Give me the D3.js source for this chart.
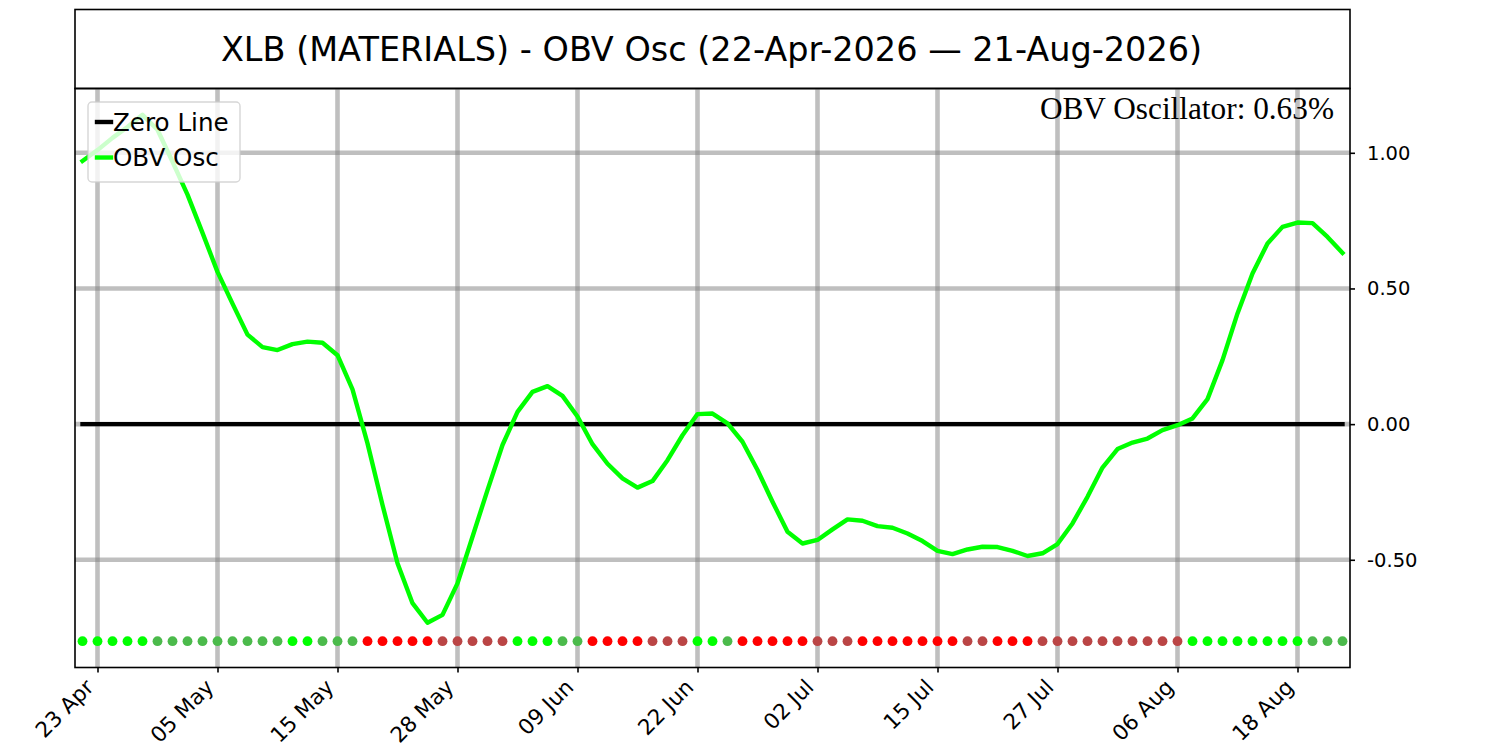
<!DOCTYPE html>
<html>
<head>
<meta charset="utf-8">
<script src="https://cdn.jsdelivr.net/npm/d3@7"></script>
<style>
  body { margin: 0; background: #fff; }
  text { font-family: "DejaVu Sans", sans-serif; }
</style>
</head>
<body>
<svg id="chart" width="1500" height="750"></svg>
<script>
// trading days shown on the chart
var dates = [
    "2026-04-22","2026-04-23","2026-04-24","2026-04-27","2026-04-28","2026-04-29","2026-04-30",
    "2026-05-01","2026-05-04","2026-05-05","2026-05-06","2026-05-07","2026-05-08","2026-05-11",
    "2026-05-12","2026-05-13","2026-05-14","2026-05-15","2026-05-18","2026-05-19","2026-05-20",
    "2026-05-21","2026-05-22","2026-05-26","2026-05-27","2026-05-28","2026-05-29",
    "2026-06-01","2026-06-02","2026-06-03","2026-06-04","2026-06-05","2026-06-08","2026-06-09",
    "2026-06-10","2026-06-11","2026-06-12","2026-06-15","2026-06-16","2026-06-17","2026-06-18",
    "2026-06-22","2026-06-23","2026-06-24","2026-06-25","2026-06-26","2026-06-29","2026-06-30",
    "2026-07-01","2026-07-02","2026-07-06","2026-07-07","2026-07-08","2026-07-09","2026-07-10",
    "2026-07-13","2026-07-14","2026-07-15","2026-07-16","2026-07-17","2026-07-20","2026-07-21",
    "2026-07-22","2026-07-23","2026-07-24","2026-07-27","2026-07-28","2026-07-29","2026-07-30",
    "2026-07-31","2026-08-03","2026-08-04","2026-08-05","2026-08-06","2026-08-07","2026-08-10",
    "2026-08-11","2026-08-12","2026-08-13","2026-08-14","2026-08-17","2026-08-18","2026-08-19",
    "2026-08-20","2026-08-21"
];

// OBV oscillator (%)
var obvOsc = [
    0.970, 1.010, 1.055, 1.095, 1.140, 1.085, 0.967, 0.846, 0.705, 0.561,
    0.444, 0.330, 0.284, 0.273, 0.295, 0.304, 0.300, 0.254, 0.128, -0.071,
    -0.298, -0.513, -0.660, -0.732, -0.703, -0.587, -0.415, -0.243, -0.077, 0.045,
    0.119, 0.140, 0.104, 0.028, -0.074, -0.146, -0.200, -0.234, -0.210, -0.133,
    -0.041, 0.037, 0.039, 0.003, -0.065, -0.169, -0.286, -0.397, -0.440, -0.427,
    -0.388, -0.351, -0.356, -0.376, -0.382, -0.403, -0.431, -0.467, -0.479, -0.462,
    -0.452, -0.453, -0.467, -0.486, -0.476, -0.442, -0.366, -0.268, -0.160, -0.092,
    -0.068, -0.053, -0.022, -0.004, 0.021, 0.092, 0.236, 0.408, 0.555, 0.666,
    0.727, 0.743, 0.741, 0.690, 0.631
];

var tickDates = ["2026-04-23","2026-05-05","2026-05-15","2026-05-28","2026-06-09","2026-06-22",
                 "2026-07-02","2026-07-15","2026-07-27","2026-08-06","2026-08-18"];
var yTicks = [1.0, 0.5, 0.0, -0.5];
var signalLevel = -0.8; // where the signal dots sit

var title = "XLB (MATERIALS) - OBV Osc (22-Apr-2026 \u2014 21-Aug-2026)";
var lastLabel = "OBV Oscillator: " + obvOsc[obvOsc.length - 1].toFixed(2) + "%";

var svg = d3.select("#chart");
var margin = {left: 75, right: 1350, top: 88.5, bottom: 667.5};
var gridColor = "#808080";

// x on trading-day index, y with matplotlib-like 5% padding
var x = d3.scalePoint()
    .domain(dates)
    .range([margin.left, margin.right])
    .padding(0.5);

var lo = Math.min(signalLevel, d3.min(obvOsc)),
    hi = d3.max(obvOsc),
    pad = (hi - lo) * 0.05;
var y = d3.scaleLinear()
    .domain([lo - pad, hi + pad])
    .range([margin.bottom, margin.top]);

svg.append("rect").attr("width", 1500).attr("height", 750).attr("fill", "#fff");

// title box
svg.append("rect")
    .attr("x", margin.left).attr("y", 9.5)
    .attr("width", margin.right - margin.left).attr("height", margin.top - 9.5)
    .attr("fill", "none").attr("stroke", "#000").attr("stroke-width", 1.6);
svg.append("text")
    .attr("x", (margin.left + margin.right) / 2 - 1).attr("y", 61)
    .attr("text-anchor", "middle")
    .style("font-size", "33.5px")
    .text(title);

// grid
var grid = svg.append("g").attr("stroke", gridColor).attr("stroke-opacity", 0.5).attr("stroke-width", 4.6);
grid.selectAll("line.vx")
    .data(tickDates).enter()
    .append("line")
    .attr("x1", function(d){ return x(d); }).attr("x2", function(d){ return x(d); })
    .attr("y1", margin.top).attr("y2", margin.bottom);
grid.selectAll("line.hy")
    .data(yTicks).enter()
    .append("line")
    .attr("x1", margin.left).attr("x2", margin.right)
    .attr("y1", function(d){ return y(d); }).attr("y2", function(d){ return y(d); });

// zero line
svg.append("line")
    .attr("x1", x(dates[0])).attr("x2", x(dates[dates.length - 1]))
    .attr("y1", y(0)).attr("y2", y(0))
    .attr("stroke", "#000").attr("stroke-width", 4.4)
    .attr("stroke-linecap", "square");

// oscillator line
var line = d3.line()
    .x(function(d, i){ return x(dates[i]); })
    .y(function(d){ return y(d); });
svg.append("path")
    .datum(obvOsc)
    .attr("d", line)
    .attr("fill", "none")
    .attr("stroke", "#00ff00")
    .attr("stroke-width", 4.4)
    .attr("stroke-linejoin", "round")
    .attr("stroke-linecap", "square");

// signal dots: above/below zero and rising/falling
function signalColor(d, i){
    var rising = i === 0 || d >= obvOsc[i - 1];
    if(d >= 0) return rising ? "#00ff00" : "#4bba4b";
    return rising ? "#ba4545" : "#ff0000";
}
svg.append("g")
    .selectAll("circle")
    .data(obvOsc).enter()
    .append("circle")
    .attr("cx", function(d, i){ return x(dates[i]); })
    .attr("cy", y(signalLevel))
    .attr("r", 4.9)
    .attr("fill", signalColor);

// legend
var legend = svg.append("g");
legend.append("rect")
    .attr("x", 88).attr("y", 102).attr("width", 152).attr("height", 80).attr("rx", 4)
    .attr("fill", "#fff").attr("fill-opacity", 0.8)
    .attr("stroke", "#cccccc").attr("stroke-opacity", 0.8).attr("stroke-width", 1.4);
var legendItems = [{name: "Zero Line", color: "#000"}, {name: "OBV Osc", color: "#00ff00"}];
legendItems.forEach(function(item, i){
    var ly = 122 + i * 35.5;
    legend.append("line")
        .attr("x1", 97).attr("x2", 111).attr("y1", ly).attr("y2", ly)
        .attr("stroke", item.color).attr("stroke-width", 4.4).attr("stroke-linecap", "square");
    legend.append("text")
        .attr("x", 113).attr("y", ly + 8.5)
        .style("font-size", "24.6px")
        .text(item.name);
});

// frame
svg.append("rect")
    .attr("x", margin.left).attr("y", margin.top)
    .attr("width", margin.right - margin.left).attr("height", margin.bottom - margin.top)
    .attr("fill", "none").attr("stroke", "#000").attr("stroke-width", 1.6);

// axes
var parse = d3.timeParse("%Y-%m-%d"),
    fmt = d3.timeFormat("%d %b");
var xAxis = svg.append("g")
    .attr("transform", "translate(0," + margin.bottom + ")")
    .call(d3.axisBottom(x).tickValues(tickDates).tickSize(5)
        .tickFormat(function(d){ return fmt(parse(d)); }));
xAxis.select(".domain").remove();
xAxis.selectAll("line").attr("stroke", "#000").attr("stroke-width", 1.6);
xAxis.selectAll("text")
    .attr("x", 0).attr("y", 0).attr("dy", 0)
    .attr("text-anchor", "end")
    .attr("transform", "translate(-3,21) rotate(-45)")
    .attr("fill", "#000")
    .style("font-size", "21.5px")
    .style("font-family", "DejaVu Sans");

var yAxis = svg.append("g")
    .attr("transform", "translate(" + margin.right + ",0)")
    .call(d3.axisRight(y).tickValues(yTicks).tickSize(5).tickPadding(12)
        .tickFormat(function(d){ return d.toFixed(2); }));
yAxis.select(".domain").remove();
yAxis.selectAll("line").attr("stroke", "#000").attr("stroke-width", 1.6);
yAxis.selectAll("text")
    .attr("fill", "#000")
    .style("font-size", "19.5px")
    .style("font-family", "DejaVu Sans");

// latest value annotation
svg.append("text")
    .attr("x", 1334).attr("y", 119)
    .attr("text-anchor", "end")
    .style("font-family", "'Liberation Serif', 'Times New Roman', serif")
    .style("font-size", "31.3px")
    .text(lastLabel);
</script>
</body>
</html>
